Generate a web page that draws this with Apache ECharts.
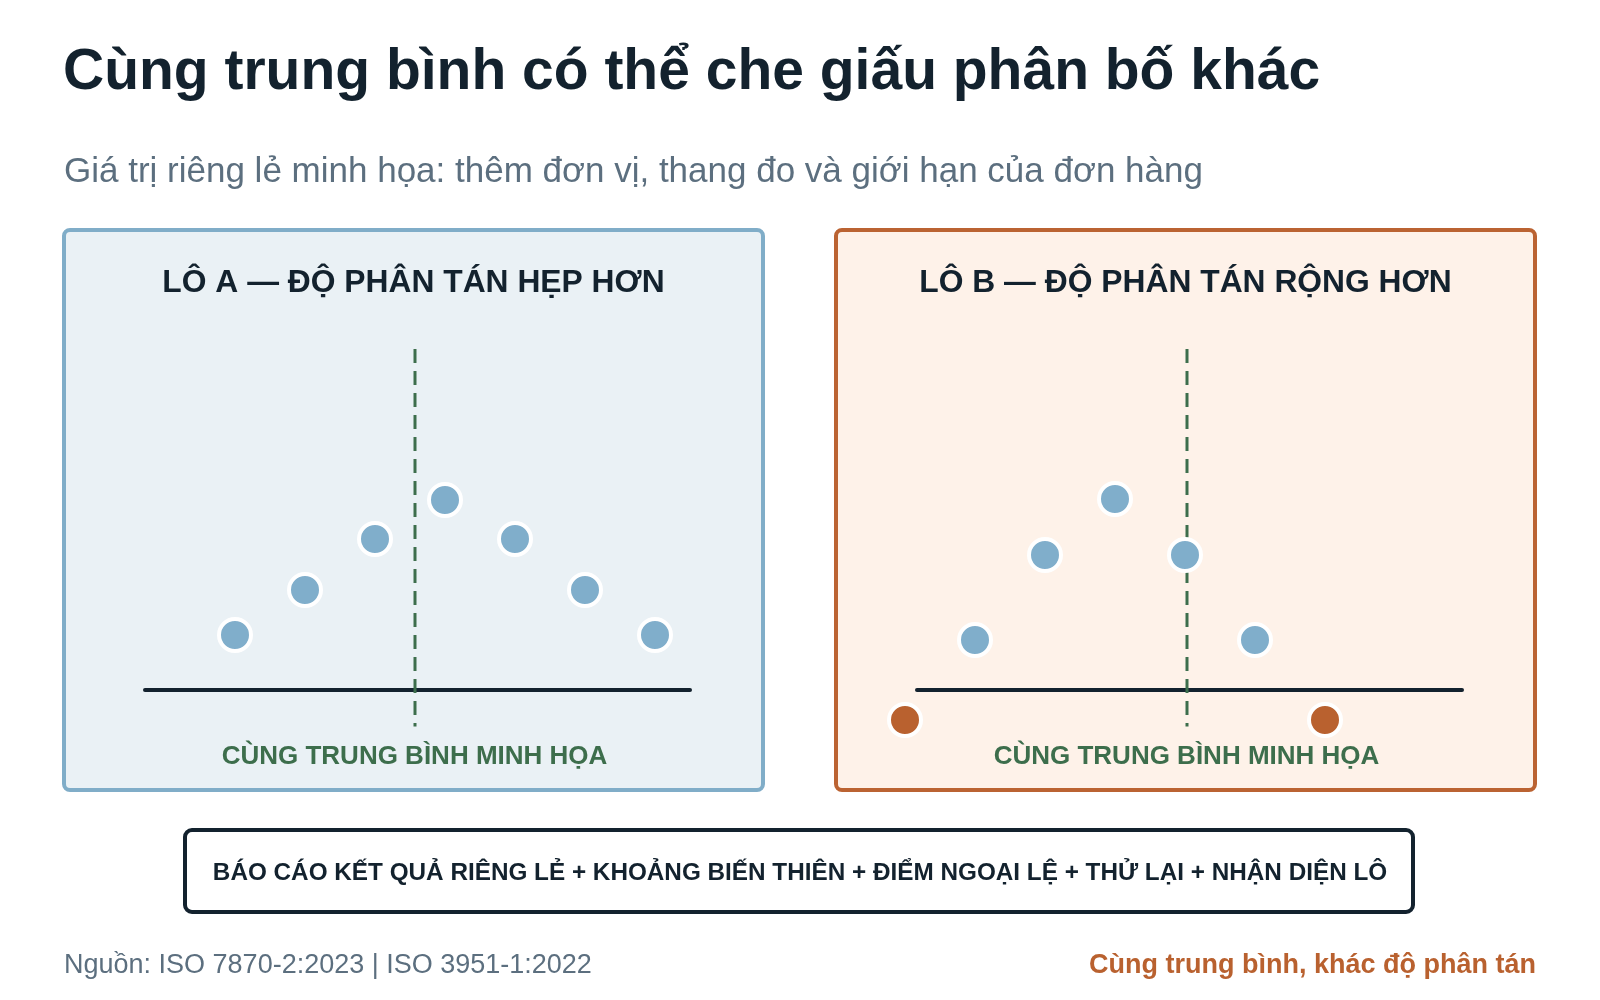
<!DOCTYPE html>
<html>
<head>
<meta charset="utf-8">
<script src="https://cdn.jsdelivr.net/npm/echarts@6/dist/echarts.min.js"></script>
<style>html,body{margin:0;padding:0;background:#fff}#c{width:1600px;height:1000px}</style>
</head>
<body>
<div id="c"></div>
<script>
// ---- Text ----
const chartTitle = 'Cùng trung bình có thể che giấu phân bố khác';
const chartSubtitle = 'Giá trị riêng lẻ minh họa: thêm đơn vị, thang đo và giới hạn của đơn hàng';
const panelTitles = ['LÔ A — ĐỘ PHÂN TÁN HẸP HƠN', 'LÔ B — ĐỘ PHÂN TÁN RỘNG HƠN'];
const meanLabel = 'CÙNG TRUNG BÌNH MINH HỌA';
const boxText = 'BÁO CÁO KẾT QUẢ RIÊNG LẺ + KHOẢNG BIẾN THIÊN + ĐIỂM NGOẠI LỆ + THỬ LẠI + NHẬN DIỆN LÔ';
const sourceText = 'Nguồn: ISO 7870-2:2023 | ISO 3951-1:2022';
const takeaway = 'Cùng trung bình, khác độ phân tán';

// ---- Data (illustrative units) ----
const lotA_x = [17, 24, 31, 38, 45, 52, 59];
const lotA_y = [55, 100, 151, 190, 151, 100, 55];
const lotB_x = [13.8, 20.8, 27.8, 34.8, 41.8];
const lotB_y = [50, 135, 191, 135, 50];
const lotB_outlier_x = [6.8, 48.8];
const lotB_outlier_y = [-30, -30];
const meanX = 35;
const meanLineY = [341, -36.5];
const baselineX = [8, 62.5];

const FONT = '"Liberation Sans", Arial, Helvetica, sans-serif';
const DARK = '#13222e';
const GREEN = '#3d6e4c';
const BLUE = '#80aecb';
const ORANGE = '#b9612f';

const zip = (xs, ys) => xs.map((x, i) => [x, ys[i]]);

const panels = [
  { left: 64, fill: '#eaf1f5', stroke: '#80adc8' },
  { left: 836, fill: '#fef2e9', stroke: '#bb6332' }
];
const PANEL_W = 699, PANEL_TOP = 230, PANEL_H = 560;

const grids = [{ left: 65, top: 340, width: 700, height: 400 }, { left: 837, top: 340, width: 700, height: 400 }];
const xAxes = grids.map((g, i) => ({ type: 'value', gridIndex: i, min: 0, max: 70, show: false }));
const yAxes = grids.map((g, i) => ({ type: 'value', gridIndex: i, min: -50, max: 350, show: false }));

const series = [];
[0, 1].forEach(i => {
  series.push({
    type: 'line', xAxisIndex: i, yAxisIndex: i, silent: true, symbol: 'none', z: 2,
    data: [[baselineX[0], 0], [baselineX[1], 0]],
    lineStyle: { color: DARK, width: 4, cap: 'round' }
  });
  series.push({
    type: 'line', xAxisIndex: i, yAxisIndex: i, silent: true, symbol: 'none', z: 3,
    data: [[meanX, meanLineY[0]], [meanX, meanLineY[1]]],
    lineStyle: { color: GREEN, width: 3, type: [14, 8] }
  });
});
series.push({
  type: 'scatter', xAxisIndex: 0, yAxisIndex: 0, z: 4, symbolSize: 32,
  data: zip(lotA_x, lotA_y),
  itemStyle: { color: BLUE, borderColor: '#fff', borderWidth: 4, opacity: 1 }
});
series.push({
  type: 'scatter', xAxisIndex: 1, yAxisIndex: 1, z: 4, symbolSize: 32,
  data: zip(lotB_x, lotB_y),
  itemStyle: { color: BLUE, borderColor: '#fff', borderWidth: 4, opacity: 1 }
});
series.push({
  type: 'scatter', xAxisIndex: 1, yAxisIndex: 1, z: 4, symbolSize: 32, clip: false,
  data: zip(lotB_outlier_x, lotB_outlier_y),
  itemStyle: { color: ORANGE, borderColor: '#fff', borderWidth: 4, opacity: 1 }
});

const txt = (text, x, y, size, weight, color, align) => ({
  type: 'text', x, y, z: 10, silent: true,
  style: { text, fill: color, font: `${weight} ${size}px ${FONT}`, align: align || 'left', verticalAlign: 'middle' }
});

const graphic = [];
panels.forEach((p, i) => {
  graphic.push({
    type: 'rect', z: -10, silent: true,
    shape: { x: p.left, y: PANEL_TOP, width: PANEL_W, height: PANEL_H, r: 6 },
    style: { fill: p.fill, stroke: p.stroke, lineWidth: 4 }
  });
  const cx = p.left + PANEL_W / 2;
  graphic.push(txt(panelTitles[i], cx, 283, 31.8, 'bold', DARK, 'center'));
  graphic.push(txt(meanLabel, cx + 1, 757, 26, 'bold', GREEN, 'center'));
});
graphic.push(txt(chartTitle, 63, 73, 57, 'bold', DARK));
graphic.push(txt(chartSubtitle, 64, 172, 35, 'normal', '#5c6f7f'));
graphic.push({
  type: 'rect', z: -10, silent: true,
  shape: { x: 185, y: 830, width: 1228, height: 82, r: 7 },
  style: { fill: '#fff', stroke: DARK, lineWidth: 4 }
});
graphic.push(txt(boxText, 800, 873, 24.3, 'bold', DARK, 'center'));
graphic.push(txt(sourceText, 64, 966, 27, 'normal', '#5c6f7f'));
graphic.push(txt(takeaway, 1536, 966, 27, 'bold', ORANGE, 'right'));

const chart = echarts.init(document.getElementById('c'), null, { renderer: 'canvas' });
chart.setOption({
  animation: false,
  backgroundColor: '#ffffff',
  grid: grids,
  xAxis: xAxes,
  yAxis: yAxes,
  series,
  graphic
});
</script>
</body>
</html>
